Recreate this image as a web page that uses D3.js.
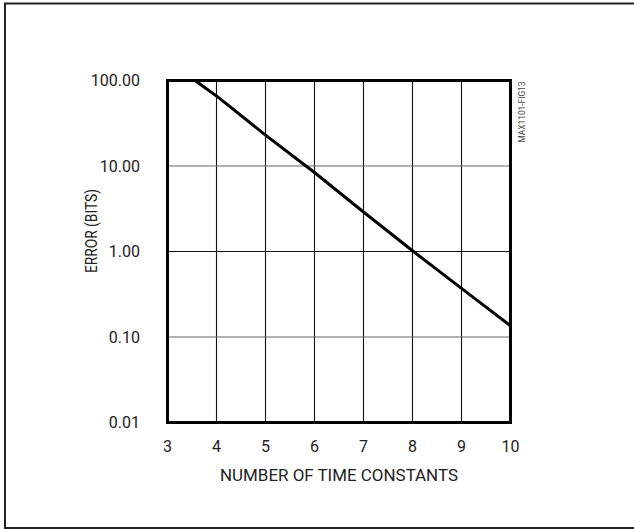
<!DOCTYPE html>
<meta charset="utf-8">
<style>
  body { margin: 0; background: #fff; }
  .tick-label { font: 16px Roboto, "Liberation Sans", Arial, sans-serif; fill: #222; }
  .title { font: 17px Roboto, "Liberation Sans", Arial, sans-serif; fill: #222; }
</style>
<svg width="634" height="529"></svg>
<script src="https://d3js.org/d3.v7.min.js"></script>
<script>
  // values
  var timeConstants = [3.56, 4, 5, 6, 7, 8, 9, 10];
  var errorBits = [100, 66, 23, 8.4, 2.9, 1.02, 0.37, 0.135];
  var xTicks = [3, 4, 5, 6, 7, 8, 9, 10];
  var yTicks = [0.01, 0.1, 1, 10, 100];
  var yTickLabels = ["0.01", "0.10", "1.00", "10.00", "100.00"];

  var svg = d3.select("svg");

  // outer frame, right side runs off the picture
  svg.append("rect")
    .attr("x", 5).attr("y", 3.5)
    .attr("width", 640).attr("height", 524.5)
    .attr("fill", "none")
    .attr("stroke", "#222")
    .attr("stroke-width", 2);

  var x = d3.scaleLinear().domain([3, 10]).range([167.5, 510.5]);
  var y = d3.scaleLog().domain([0.01, 100]).range([422.5, 80.5]);

  var g = svg.append("g");

  // grid
  g.selectAll(".vgrid")
    .data(xTicks.slice(1, -1))
    .enter().append("line")
    .attr("class", "vgrid")
    .attr("x1", function (d) { return x(d); })
    .attr("x2", function (d) { return x(d); })
    .attr("y1", y(100)).attr("y2", y(0.01))
    .attr("stroke", "#111")
    .attr("stroke-width", 1.1);

  g.selectAll(".hgrid")
    .data(yTicks.slice(1, -1))
    .enter().append("line")
    .attr("class", "hgrid")
    .attr("x1", x(3)).attr("x2", x(10))
    .attr("y1", function (d) { return y(d); })
    .attr("y2", function (d) { return y(d); })
    .attr("stroke", function (d) { return d === 1 ? "#111" : "#666"; })
    .attr("stroke-width", 1.1);

  // data line
  var line = d3.line()
    .x(function (d, i) { return x(timeConstants[i]); })
    .y(function (d) { return y(d); });

  g.append("path")
    .datum(errorBits)
    .attr("d", line)
    .attr("fill", "none")
    .attr("stroke", "#000")
    .attr("stroke-width", 3);

  // plot frame
  g.append("rect")
    .attr("x", x(3)).attr("y", y(100))
    .attr("width", x(10) - x(3))
    .attr("height", y(0.01) - y(100))
    .attr("fill", "none")
    .attr("stroke", "#000")
    .attr("stroke-width", 3);

  // axes labels
  g.selectAll(".xlab")
    .data(xTicks)
    .enter().append("text")
    .attr("class", "tick-label")
    .attr("x", function (d) { return x(d); })
    .attr("y", 452)
    .attr("text-anchor", "middle")
    .text(function (d) { return d; });

  g.selectAll(".ylab")
    .data(yTicks)
    .enter().append("text")
    .attr("class", "tick-label")
    .attr("x", 140)
    .attr("y", function (d) { return y(d) + 5.5; })
    .attr("text-anchor", "end")
    .text(function (d, i) { return yTickLabels[i]; });

  svg.append("text")
    .attr("class", "title")
    .attr("x", 339).attr("y", 481)
    .attr("text-anchor", "middle")
    .attr("textLength", 238)
    .attr("lengthAdjust", "spacingAndGlyphs")
    .text("NUMBER OF TIME CONSTANTS");

  svg.append("text")
    .attr("class", "title")
    .attr("transform", "translate(97,231) rotate(-90)")
    .attr("text-anchor", "middle")
    .attr("textLength", 84)
    .attr("lengthAdjust", "spacingAndGlyphs")
    .text("ERROR (BITS)");

  svg.append("text")
    .attr("transform", "translate(525,112) rotate(-90)")
    .attr("text-anchor", "middle")
    .attr("textLength", 61)
    .attr("lengthAdjust", "spacingAndGlyphs")
    .style("font", "9px Roboto, Arial, sans-serif")
    .style("fill", "#444")
    .text("MAX1101-FIG13");
</script>
